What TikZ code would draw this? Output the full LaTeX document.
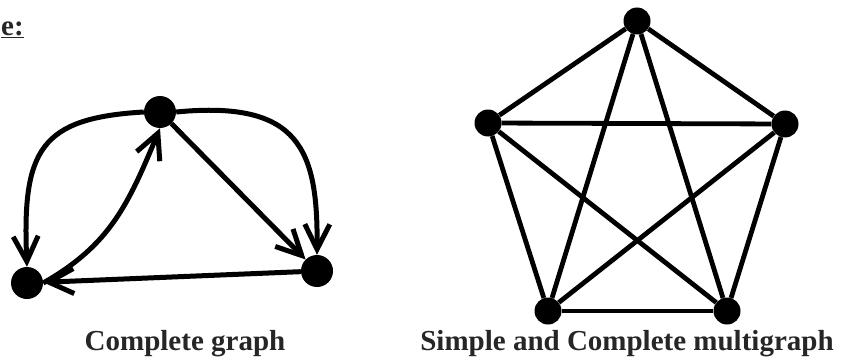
\documentclass[tikz,border=0pt]{standalone}
\usepackage{fontspec}
\setmainfont{Liberation Serif}
\usetikzlibrary{arrows.meta}
\tikzset{
  vert/.style={circle, fill=black, inner sep=0pt, minimum size=32pt},
  pvert/.style={circle, fill=black, inner sep=0pt, minimum size=27pt},
  arc/.style={-{Straight Barb[length=25pt, width=25pt]}, line width=5pt},
  edge/.style={line width=4.8pt},
  gcaption/.style={font=\fontsize{29}{34}\selectfont\bfseries, text=black!85},
}
\begin{document}
\begin{tikzpicture}[x=1pt, y=-1pt]
  \useasboundingbox (0,0) rectangle (841,361);
  % heading
  \node[gcaption, anchor=south west, inner sep=0pt] (head) at (1,38) {\underline{e:}};

  % directed complete graph
  \node[vert] (top) at (160,112) {};
  \node[vert] (lft) at (27,283) {};
  \node[vert] (rgt) at (317,271) {};
  \draw[arc] (top.west) .. controls (40,118) and (22,150) .. (lft.north);
  \draw[arc] (lft.east) .. controls (110,245) and (128,205) .. (top.south);
  \draw[arc] (top) -- (rgt);
  \draw[arc] (top.east) .. controls (300,100) and (318,150) .. (rgt.north);
  \draw[arc] (rgt) -- (lft);
  \node[gcaption, anchor=base] (capa) at (185,350) {Complete graph};

  % K5
  \node[pvert] (p1) at (637,21) {};
  \node[pvert] (p2) at (488,123) {};
  \node[pvert] (p3) at (785,124) {};
  \node[pvert] (p4) at (548,311) {};
  \node[pvert] (p5) at (727,311) {};
  \draw[edge] (p1) -- (p2);
  \draw[edge] (p1) -- (p3);
  \draw[edge] (p1) -- (p4);
  \draw[edge] (p1) -- (p5);
  \draw[edge] (p2) -- (p3);
  \draw[edge] (p2) -- (p4);
  \draw[edge] (p2) -- (p5);
  \draw[edge] (p3) -- (p4);
  \draw[edge] (p3) -- (p5);
  \draw[edge] (p4) -- (p5);
  \node[gcaption, anchor=base] (capb) at (627,350) {Simple and Complete multigraph};
\end{tikzpicture}
\end{document}
